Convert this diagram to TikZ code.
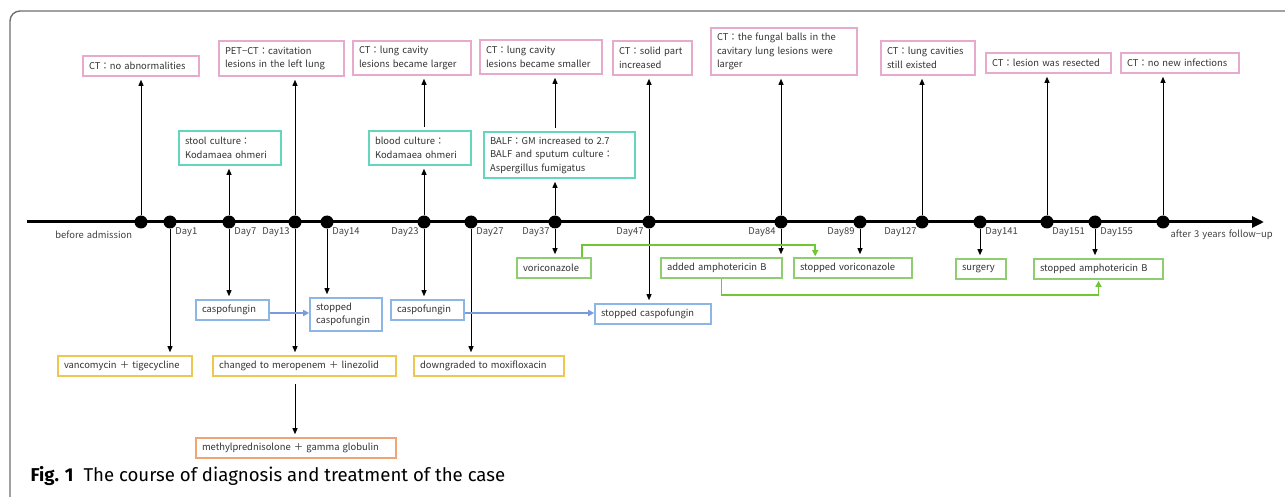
\documentclass[tikz,border=0pt]{standalone}
\usepackage{fontspec}
\usepackage{tikz}
\usetikzlibrary{arrows.meta,calc}
\newfontfamily\diafont{Noto Sans CJK KR}[WordSpace=1.45]
\newfontfamily\capfont{Fira Sans}
\definecolor{ctpink}{RGB}{231,170,204}
\definecolor{labteal}{RGB}{100,214,190}
\definecolor{drugblue}{RGB}{140,182,230}
\definecolor{flowblue}{RGB}{122,154,222}
\definecolor{abxyellow}{RGB}{236,200,82}
\definecolor{sterorange}{RGB}{240,164,118}
\definecolor{funggreen}{RGB}{142,206,112}
\definecolor{flowgreen}{RGB}{112,198,52}
\definecolor{framegray}{RGB}{110,110,110}

\begin{document}
\begin{tikzpicture}[x=1pt,y=-1pt,
  every node/.style={font=\diafont\fontsize{9.4}{13.5}\selectfont, text=black!80},
  event/.style={draw, line width=1.6pt, inner xsep=6pt, inner ysep=2pt, align=left, fill=white},
  ctbox/.style={event, draw=ctpink},
  labbox/.style={event, draw=labteal},
  drugbox/.style={event, draw=drugblue},
  abxbox/.style={event, draw=abxyellow},
  sterbox/.style={event, draw=sterorange},
  fungbox/.style={event, draw=funggreen},
  dot/.style={circle, fill=black, inner sep=0pt, minimum size=13pt},
  day/.style={inner sep=0.5pt, text=black!75},
  arr/.style={-{Triangle[length=6pt,width=5pt]}, line width=0.9pt, shorten >=3pt},
  flow/.style={-{Triangle[length=6pt,width=6pt]}, line width=1.8pt}]
\useasboundingbox (0,0) rectangle (1285,497);
\draw[framegray, line width=1.4pt, rounded corners=10pt] (10,497) -- (10,11) -- (1285,11);

\coordinate (tstart) at (27,222);
\coordinate (tend) at (1264,222);
\draw[line width=3pt, -{Triangle[length=12pt,width=11pt]}] (tstart) -- (tend);

\node[dot, label={[day, label distance=5pt]below left:before admission}] (d0) at (141,222) {};
\node[dot, label={[day]below right:Day1}] (d1) at (170,222) {};
\node[dot, label={[day]below right:Day7}] (d2) at (229,222) {};
\node[dot, label={[day]below left:Day13}] (d3) at (295,222) {};
\node[dot, label={[day]below right:Day14}] (d4) at (327,222) {};
\node[dot, label={[day]below left:Day23}] (d5) at (424,222) {};
\node[dot, label={[day]below right:Day27}] (d6) at (471,222) {};
\node[dot, label={[day]below left:Day37}] (d7) at (555,222) {};
\node[dot, label={[day]below left:Day47}] (d8) at (649,222) {};
\node[dot, label={[day]below left:Day84}] (d9) at (781,222) {};
\node[dot, label={[day]below left:Day89}] (d10) at (860,222) {};
\node[dot, label={[day]below left:Day127}] (d11) at (922,222) {};
\node[dot, label={[day]below right:Day141}] (d12) at (980,222) {};
\node[dot, label={[day]below right:Day151}] (d13) at (1047,222) {};
\node[dot, label={[day]below right:Day155}] (d14) at (1095,222) {};
\node[dot, label={[day, label distance=3pt]below right:after 3 years follow−up}] (d15) at (1163,222) {};

\node[ctbox, text width=104pt, minimum height=20] (p0) at (141,66) {CT：no abnormalities};
\node[ctbox, text width=113pt, minimum height=35] (p1) at (281.5,58.5) {PET−CT：cavitation\\lesions in the left lung};
\node[ctbox, text width=106pt, minimum height=34] (p2) at (412,58) {CT：lung cavity\\lesions became larger};
\node[ctbox, text width=110pt, minimum height=34] (p3) at (541,57) {CT：lung cavity\\lesions became smaller};
\node[ctbox, text width=67pt, minimum height=34] (p4) at (652.5,58) {CT：solid part\\increased};
\node[ctbox, text width=134pt, minimum height=47] (p5) at (784,51.5) {CT：the fungal balls in the\\cavitary lung lesions were\\larger};
\node[ctbox, text width=82pt, minimum height=34] (p6) at (928,58) {CT：lung cavities\\still existed};
\node[ctbox, text width=113pt, minimum height=20] (p7) at (1048.5,63) {CT：lesion was resected};
\node[ctbox, text width=106pt, minimum height=20] (p8) at (1180,63) {CT：no new infections};

\node[labbox, text width=90pt, minimum height=34] (t0) at (230,148) {stool culture：\\Kodamaea ohmeri};
\node[labbox, text width=90pt, minimum height=34] (t1) at (420,148) {blood culture：\\Kodamaea ohmeri};
\node[labbox, text width=139pt, minimum height=46] (t2) at (559.5,155) {BALF：GM increased to 2.7\\BALF and sputum culture：\\Aspergillus fumigatus};

\node[drugbox, text width=61pt, minimum height=20] (b0) at (232.5,310) {caspofungin};
\node[drugbox, text width=60pt, minimum height=33] (b1) at (346,314.5) {stopped\\caspofungin};
\node[drugbox, text width=61pt, minimum height=20] (b2) at (427.5,310) {caspofungin};
\node[drugbox, text width=104pt, minimum height=20] (b3) at (653,314) {stopped caspofungin};

\node[abxbox, text width=122pt, minimum height=20] (y0) at (125,366) {vancomycin ＋ tigecycline};
\node[abxbox, text width=171pt, minimum height=20] (y1) at (304.5,366) {changed to meropenem ＋ linezolid};
\node[abxbox, text width=138pt, minimum height=20] (y2) at (489,366) {downgraded to moxifloxacin};
\node[sterbox, text width=188pt, minimum height=20] (o0) at (296,448) {methylprednisolone ＋ gamma globulin};

\node[fungbox, text width=62pt, minimum height=20] (g0) at (554,268) {voriconazole};
\node[fungbox, text width=109pt, minimum height=20] (g1) at (721.5,268) {added amphotericin B};
\node[fungbox, text width=106pt, minimum height=20] (g2) at (853,268) {stopped voriconazole};
\node[fungbox, text width=38pt, minimum height=20] (g3) at (981,269) {surgery};
\node[fungbox, text width=117pt, minimum height=20] (g4) at (1098.5,269) {stopped amphotericin B};

\draw[arr] (d0) -- (d0 |- p0.south);
\draw[arr] (d3) -- (d3 |- p1.south);
\draw[arr, shorten <=3pt] (t1.north -| d5) -- (d5 |- p2.south);
\draw[arr, shorten <=3pt] (t2.north -| d7) -- (d7 |- p3.south);
\draw[arr] (d8) -- (d8 |- p4.south);
\draw[arr] (d9) -- (d9 |- p5.south);
\draw[arr] (d11) -- (d11 |- p6.south);
\draw[arr] (d13) -- (d13 |- p7.south);
\draw[arr] (d15) -- (d15 |- p8.south);

\draw[arr] (d2) -- (d2 |- t0.south);
\draw[arr] (d5) -- (d5 |- t1.south);
\draw[arr] (d7) -- (d7 |- t2.south);

\draw[arr] (d2) -- (d2 |- b0.north);
\draw[arr] (d4) -- (d4 |- b1.north);
\draw[arr] (d5) -- (d5 |- b2.north);
\draw[arr] (d8) -- (d8 |- b3.north);

\draw[arr] (d1) -- (d1 |- y0.north);
\draw[arr] (d3) -- (d3 |- y1.north);
\draw[arr] (d6) -- (d6 |- y2.north);
\draw[arr, shorten <=7pt] (y1.south -| d3) -- (d3 |- o0.north);

\draw[arr] (d7) -- (d7 |- g0.north);
\draw[arr] (d9) -- (d9 |- g1.north);
\draw[arr] (d10) -- (d10 |- g2.north);
\draw[arr] (d12) -- (d12 |- g3.north);
\draw[arr] (d14) -- (d14 |- g4.north);

\draw[flow, draw=flowblue] ([yshift=-3pt]b0.east) -- ([yshift=-3pt]b0.east -| b1.west);
\draw[flow, draw=flowblue] ([yshift=-3pt]b2.east) -- ([yshift=-3pt]b2.east -| b3.west);
\draw[flow, draw=flowgreen, shorten >=1pt] ($(g0.north east)+(-10,0)$) -- ++(0,-12) -| ($(g2.north west)+(22,0)$);
\draw[flow, draw=flowgreen, shorten >=1pt] (g1.south) -- ++(0,16) -| (g4.south);

\node[anchor=base west, font=\capfont\fontsize{18.6}{22}\selectfont, text=black] (caption) at (27,481) {\textbf{Fig. 1}\hspace{10pt}The course of diagnosis and treatment of the case};
\end{tikzpicture}
\end{document}
